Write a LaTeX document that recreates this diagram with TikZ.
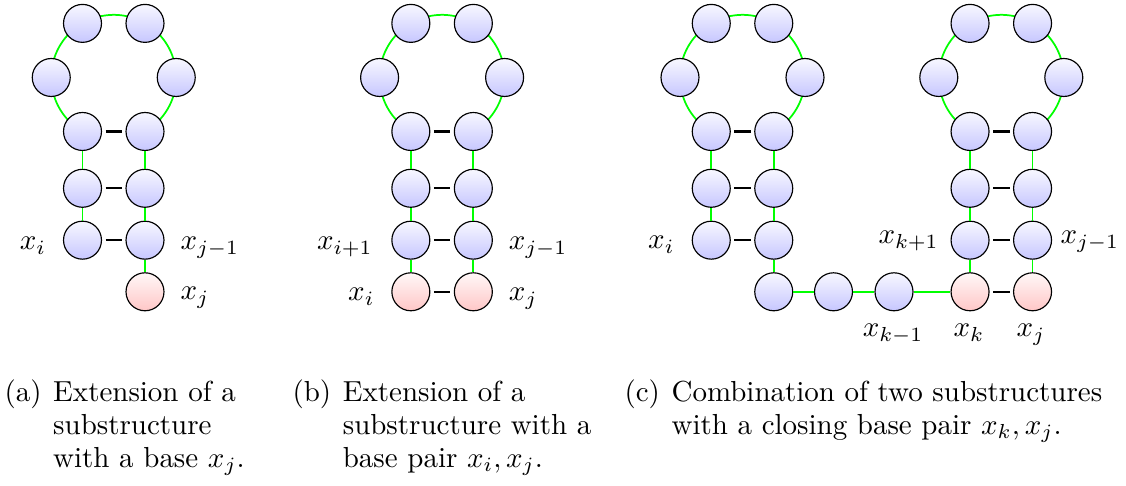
\documentclass[tikz,border=0pt]{standalone}
\usetikzlibrary{backgrounds}
\tikzset{
  base/.style={circle, draw, inner sep=0pt, minimum size=13.1pt, top color=blue!3, bottom color=blue!22},
  fixed/.style={base, top color=red!3, bottom color=red!22},
  link/.style={green, line width=0.6pt},
  bond/.style={thick, shorten >=1.2pt, shorten <=1.2pt},
  lab/.style={inner sep=0pt},
  capt/.style={inner sep=0pt, anchor=base west, font=\fontsize{10}{11.3}\selectfont}
}
\begin{document}
\begin{tikzpicture}[x=0.345pt, y=0.345pt]
  \useasboundingbox (0,0) rectangle (1126,486);

  % 1. hairpins (loop + stem)
  \foreach \p/\cx in {a/113.75, b/442.1, c/742.5, d/1001.3} {
    \node[base] (\p-t1) at (\cx-31.25,462.6) {};
    \node[base] (\p-t2) at (\cx+31.25,462.6) {};
    \node[base] (\p-l) at (\cx-62.5,408.5) {};
    \node[base] (\p-r) at (\cx+62.5,408.5) {};
    \foreach \row/\y in {1/354.5, 2/297.7, 3/245.8} {
      \node[base] (\p-\row l) at (\cx-31.25,\y) {};
      \node[base] (\p-\row r) at (\cx+31.25,\y) {};
      \draw[bond] (\p-\row l) -- (\p-\row r);
    }
    \begin{scope}[on background layer]
      \draw[link] (\p-1l.center) arc[start angle=240, end angle=-60, radius=62.5];
    \end{scope}
    \draw[link] (\p-1l) -- (\p-2l) -- (\p-3l);
    \draw[link] (\p-1r) -- (\p-2r) -- (\p-3r);
  }

  % 2. (a) extension with a base
  \node[fixed] (a-j) at (145,194.2) {};
  \draw[link] (a-3r) -- (a-j);
  \node[lab, anchor=base east] (a-xi) at (46.7,236) {$x_i$};
  \node[lab, anchor=base west] (a-xj1) at (180,236) {$x_{j-1}$};
  \node[lab, anchor=base west] (a-xj) at (180,186) {$x_j$};

  % 3. (b) extension with a base pair
  \node[fixed] (b-i) at (410.85,194.2) {};
  \node[fixed] (b-j) at (473.35,194.2) {};
  \draw[link] (b-3l) -- (b-i);
  \draw[link] (b-3r) -- (b-j);
  \draw[bond] (b-i) -- (b-j);
  \node[lab, anchor=base east] (b-xi1) at (373.3,236) {$x_{i+1}$};
  \node[lab, anchor=base west] (b-xj1) at (508.3,236) {$x_{j-1}$};
  \node[lab, anchor=base east] (b-xi) at (375,185) {$x_i$};
  \node[lab, anchor=base west] (b-xj) at (508.3,185) {$x_j$};

  % 4. (c) combination of two substructures
  \node[base] (c-0r) at (773.75,194.2) {};
  \node[base] (c-m1) at (833.5,194.2) {};
  \node[base] (c-m2) at (894,194.2) {};
  \node[fixed] (d-k) at (970.05,194.2) {};
  \node[fixed] (d-j) at (1032.55,194.2) {};
  \draw[link] (c-3r) -- (c-0r) -- (c-m1) -- (c-m2) -- (d-k) -- (d-3l);
  \draw[link] (d-j) -- (d-3r);
  \draw[bond] (d-k) -- (d-j);
  \node[lab, anchor=base east] (c-xi) at (675,237) {$x_i$};
  \node[lab, anchor=base east] (d-xk1) at (939.3,242) {$x_{k+1}$};
  \node[lab, anchor=base west] (d-xj1) at (1060,242) {$x_{j-1}$};
  \node[lab, anchor=base] (c-xk-1) at (893,149) {$x_{k-1}$};
  \node[lab, anchor=base] (d-xk) at (969,149) {$x_k$};
  \node[lab, anchor=base] (d-xj) at (1031,149) {$x_j$};

  % 5. captions
  \node[capt] (cap-a) at (4,84.3) {\begin{tabular}[t]{@{}l@{\hspace{4pt}}l@{}}(a) & Extension of a\\ & substructure\\ & with a base $x_j$.\end{tabular}};
  \node[capt] (cap-b) at (292,84.3) {\begin{tabular}[t]{@{}l@{\hspace{4pt}}l@{}}(b) & Extension of a\\ & substructure with a\\ & base pair $x_i, x_j$.\end{tabular}};
  \node[capt] (cap-c) at (624,84.3) {\begin{tabular}[t]{@{}l@{\hspace{4pt}}l@{}}(c) & Combination of two substructures\\ & with a closing base pair $x_k, x_j$.\end{tabular}};
\end{tikzpicture}
\end{document}
